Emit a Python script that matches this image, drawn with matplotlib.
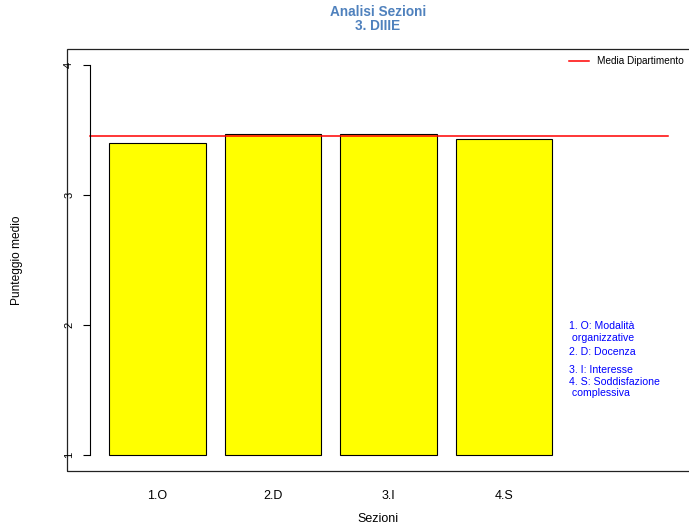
import numpy as np
import matplotlib.pyplot as plt
from matplotlib.patches import Rectangle

plt.rcParams['font.family'] = ['Liberation Sans', 'DejaVu Sans']

# Data
sezioni = ["1.O", "2.D", "3.I", "4.S"]
punteggi = [3.40, 3.47, 3.47, 3.43]
media_dip = 3.45
note = ["1. O: Modalità\n organizzative", "2. D: Docenza",
        "3. I: Interesse", "4. S: Soddisfazione\n complessiva"]
note_y = [2.03, 1.83, 1.695, 1.605]     # where each note starts (data units)

fig = plt.figure(figsize=(6.89, 5.31), dpi=100)
ax = fig.add_axes([67/689, 60/531, 624/689, 422/531])

# bar positions like R barplot (width 1, space 0.2)
x = 0.2 + np.arange(len(sezioni)) * 1.2 + 0.5
ax.bar(x, np.array(punteggi) - 1, bottom=1, width=1,
       color="yellow", edgecolor="black", linewidth=0.8)
ax.plot([0, 6], [media_dip, media_dip], color="red", lw=1.1,
        label="Media Dipartimento")

ax.set_xlim(-0.24, 6.24)
ax.set_ylim(0.88, 4.12)

# frame around plot region
ax.add_patch(Rectangle((0, 0), 1, 1, transform=ax.transAxes, fill=False,
                       edgecolor="#222222", lw=0.9, clip_on=False))
for s in ["top", "right", "bottom"]:
    ax.spines[s].set_visible(False)
ax.spines["left"].set_position(("data", 0))
ax.spines["left"].set_bounds(1, 4)
ax.spines["left"].set_linewidth(0.8)

ax.set_yticks([1, 2, 3, 4])
ax.tick_params(axis="y", length=5, width=0.8, pad=6.5, labelsize=8,
               labelrotation=90)
for lab in ax.get_yticklabels():
    lab.set_va("center")

ax.set_xticks(x, sezioni)
ax.tick_params(axis="x", length=0, pad=14, labelsize=9)

fig.text(378/689, 1 - 19.5/531, "Analisi Sezioni\n3. DIIIE", ha="center",
         va="center", fontsize=9.8, fontweight="bold", color="#4F81BD",
         linespacing=1.0)
fig.text(378/689, 1 - 519/531, "Sezioni", ha="center", va="center",
         fontsize=9)
fig.text(17/689, 1 - 260/531, "Punteggio medio", ha="center", va="center",
         rotation=90, fontsize=8.6)

ax.legend(loc="upper right", bbox_to_anchor=(1.0, 1.0), frameon=False,
          fontsize=7.2, handlelength=2.0, handletextpad=0.8,
          borderaxespad=0.3)

for txt, yy in zip(note, note_y):
    ax.text(4.97, yy, txt, color="blue", fontsize=7.6, va="top", ha="left",
            linespacing=1.2)

fig.savefig("out.png", dpi=100)
